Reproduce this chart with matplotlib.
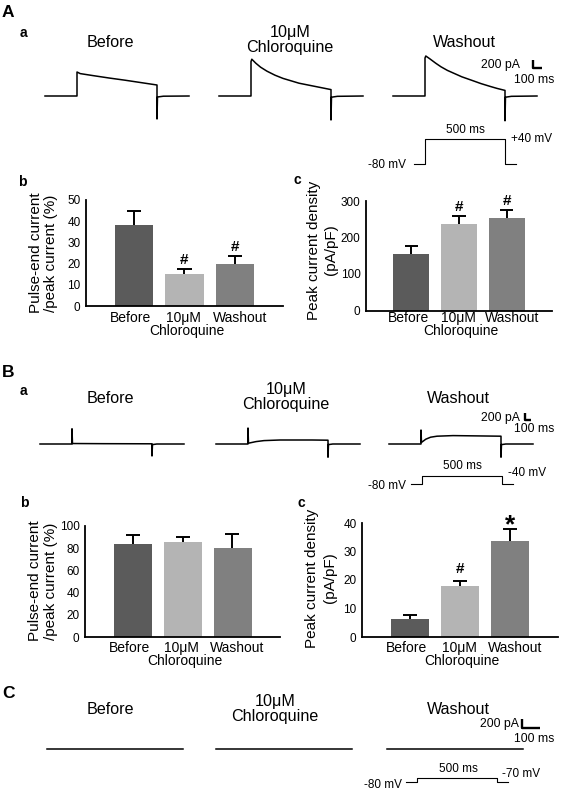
import matplotlib
matplotlib.use("Agg")
import matplotlib.pyplot as plt
from matplotlib.transforms import blended_transform_factory

plt.rcParams['font.family'] = ['Liberation Sans', 'DejaVu Sans']

W, H = 568, 790

groups = ["Before", "10μM", "Washout"]
bar_colors = ["#5b5b5b", "#b4b4b4", "#808080"]

# panel A b / c (mean, SEM)
A_ratio = [38, 15, 20]
A_ratio_err = [7, 2.5, 3.5]
A_ratio_marks = ["", "#", "#"]
A_density = [155, 237, 253]
A_density_err = [22, 22, 22]
A_density_marks = ["", "#", "#"]

# panel B b / c
B_ratio = [84, 86, 80]
B_ratio_err = [8, 4.5, 13]
B_ratio_marks = ["", "", ""]
B_density = [6.2, 17.8, 33.8]
B_density_err = [1.5, 1.8, 4.2]
B_density_marks = ["", "#", "*"]

# current sweeps (ms, pA)
t_a_before = [0, 200, 200, 220, 300, 400, 500, 600, 700, 700, 703, 740, 900]
i_a_before = [0, 0, 600, 560, 510, 450, 395, 335, 275, -575, -25, -5, 0]
t_a_cq = [0, 200, 200, 205, 230, 260, 300, 350, 400, 450, 500, 550, 600, 650, 700, 700, 703, 740, 900]
i_a_cq = [0, 0, 860, 920, 820, 720, 620, 520, 440, 380, 320, 280, 240, 200, 160, -600, -30, -8, 0]
t_a_wash = [0, 200, 200, 205, 230, 268, 300, 340, 381, 430, 494, 550, 607, 650, 700, 700, 703, 740, 900]
i_a_wash = [0, 0, 950, 1000, 930, 817, 730, 640, 567, 480, 390, 310, 240, 190, 140, -620, -30, -8, 0]

t_b_before = [0, 200, 200, 203, 400, 700, 700, 703, 730, 900]
i_b_before = [0, 0, 380, 12, 8, 5, -300, -15, 0, 0]
t_b_cq = [0, 200, 200, 203, 250, 300, 400, 500, 600, 700, 700, 703, 730, 900]
i_b_cq = [0, 0, 400, 20, 60, 85, 100, 100, 100, 95, -330, -15, 0, 0]
t_b_wash = [0, 200, 200, 203, 230, 260, 300, 400, 500, 600, 700, 700, 703, 730, 900]
i_b_wash = [0, 0, 350, 40, 120, 170, 195, 210, 205, 200, 195, -330, -15, 0, 0]

t_c = [0, 850]
i_c_before = [0, 0]
i_c_cq = [0, 0]
i_c_wash = [0, 0]

# voltage protocols (ms, mV)
proto_t = [0, 70, 70, 570, 570, 640]
proto_A = [-80, -80, 40, 40, -80, -80]
proto_B = [-80, -80, -40, -40, -80, -80]
proto_C = [-80, -80, -70, -70, -80, -80]

fig = plt.figure(figsize=(W / 100, H / 100), dpi=100)
ov = fig.add_axes([0, 0, 1, 1])
ov.set_xlim(0, W)
ov.set_ylim(H, 0)
ov.axis('off')


def box(x0, y0, x1, y1):
    return fig.add_axes([x0 / W, 1 - y1 / H, (x1 - x0) / W, (y1 - y0) / H])


def txt(x, y, s, size=10, **kw):
    kw.setdefault('va', 'baseline')
    ov.text(x, y, s, fontsize=size, **kw)


def trace(x0, y0, y1, t, i, xmax, ylo, yhi):
    ax = box(x0, y0, x0 + xmax * 0.16, y1)
    ax.plot(t, i, color='black', lw=1.1, clip_on=False)
    ax.set_xlim(0, xmax)
    ax.set_ylim(ylo, yhi)
    ax.axis('off')


def protocol(x0, y0, y1, v, ylo, yhi):
    ax = box(x0, y0, x0 + proto_t[-1] * 0.16, y1)
    ax.plot(proto_t, v, color='black', lw=0.8, clip_on=False)
    ax.set_xlim(0, proto_t[-1])
    ax.set_ylim(ylo, yhi)
    ax.axis('off')


def bars(x0, y0, x1, y1, vals, errs, ymax, step, marks, gaps, label_y, chloro_y):
    ax = box(x0, y0, x1, y1)
    pos = [1, 2, 3]
    ax.bar(pos, vals, width=0.76, color=bar_colors)
    tops = [v + e for v, e in zip(vals, errs)]
    ax.vlines(pos, vals, tops, color='black', lw=1.4)
    ax.hlines(tops, [p - 0.14 for p in pos], [p + 0.14 for p in pos], color='black', lw=1.4)
    for p, tp, m, g in zip(pos, tops, marks, gaps):
        if m == "*":
            ax.annotate(m, (p, tp), xytext=(0, g), textcoords='offset pixels',
                        ha='center', va='baseline', fontsize=19, fontweight='bold')
        elif m:
            ax.annotate(m, (p, tp), xytext=(0, g), textcoords='offset pixels',
                        ha='center', va='baseline', fontsize=11, fontweight='bold')
    ax.set_xlim(0.05, 3.95)
    ax.set_ylim(0, ymax)
    ax.set_yticks(range(0, ymax + 1, step))
    ax.set_xticks([])
    ax.tick_params(axis='y', length=0, labelsize=8.5, pad=4)
    for s in ['top', 'right']:
        ax.spines[s].set_visible(False)
    for s in ['left', 'bottom']:
        ax.spines[s].set_linewidth(1.3)
    ax.patch.set_alpha(0)
    tr = blended_transform_factory(ax.transData, ov.transData)
    for p, g, dx in zip(pos, groups, [-3, -1, 5]):
        ax.annotate(g, (p, label_y), xycoords=tr, xytext=(dx, 0), textcoords='offset pixels',
                    ha='center', va='baseline', fontsize=10)
    ax.annotate("Chloroquine", (2, chloro_y), xycoords=tr, xytext=(2, 0),
                textcoords='offset pixels', ha='center', va='baseline', fontsize=10)
    return ax


def titles(xb, xc, xw, yb, yc1, yc2):
    txt(xb, yb, "Before", 11.6, ha='center')
    txt(xc, yc1, "10μM", 11.6, ha='center')
    txt(xc, yc2, "Chloroquine", 11.6, ha='center')
    txt(xw, yb, "Washout", 11.6, ha='center')


def scalebar(xt, yt1, yt2, xb, yb0, yb1, xb1):
    txt(xt, yt1, "200 pA", 8.8, ha='right')
    txt(554, yt2, "100 ms", 8.8, ha='right')
    ov.plot([xb, xb, xb1], [yb0, yb1, yb1], color='black', lw=1.7, solid_capstyle='butt')


# ---------------- panel A ----------------
txt(2, 17, "A", 12.5, fontweight='bold')
txt(20, 37, "a", 10, fontweight='bold')
titles(110, 290, 464, 47, 37, 52)
trace(45, 52, 124, t_a_before, i_a_before, 900, -700, 1100)
trace(219, 52, 124, t_a_cq, i_a_cq, 900, -700, 1100)
trace(393, 52, 124, t_a_wash, i_a_wash, 900, -700, 1100)
scalebar(520, 68, 83, 533, 60, 68, 542)
protocol(414, 136.9, 166.1, proto_A, -90, 50)
txt(465, 133, "500 ms", 8.5, ha='center')
txt(511, 142, "+40 mV", 8.5, ha='left')
txt(406, 168, "-80 mV", 8.5, ha='right')

txt(18, 186, "b", 10, fontweight='bold')
bars(86, 200, 283, 306, A_ratio, A_ratio_err, 50, 10, A_ratio_marks, [5, 5, 5], 322, 335)
txt(36, 253, "Pulse-end current", 11, rotation=90, ha='center', va='center')
txt(51, 253, "/peak current (%)", 11, rotation=90, ha='center', va='center')

txt(293, 184, "c", 10, fontweight='bold')
bars(366, 201, 552, 310.5, A_density, A_density_err, 300, 100, A_density_marks, [5, 5, 5], 322, 335)
txt(314, 250, "Peak current density", 11, rotation=90, ha='center', va='center')
txt(331, 250, "(pA/pF)", 11, rotation=90, ha='center', va='center')

# ---------------- panel B ----------------
txt(2, 377, "B", 12.5, fontweight='bold')
txt(20, 395, "a", 10, fontweight='bold')
titles(110, 286, 458, 403, 394, 409)
trace(40, 424, 460, t_b_before, i_b_before, 900, -400, 500)
trace(216, 424, 460, t_b_cq, i_b_cq, 900, -400, 500)
trace(389, 424, 460, t_b_wash, i_b_wash, 900, -400, 500)
scalebar(520, 421, 432, 525, 413, 420, 531)
protocol(411, 474, 486, proto_B, -90, -30)
txt(462, 469, "500 ms", 8.5, ha='center')
txt(508, 476, "-40 mV", 8.5, ha='left')
txt(406, 489, "-80 mV", 8.5, ha='right')

txt(20, 507, "b", 10, fontweight='bold')
bars(85, 526, 280, 637, B_ratio, B_ratio_err, 100, 20, B_ratio_marks, [5, 5, 5], 652, 665)
txt(35, 581, "Pulse-end current", 11, rotation=90, ha='center', va='center')
txt(51, 581, "/peak current (%)", 11, rotation=90, ha='center', va='center')

txt(297, 507, "c", 10, fontweight='bold')
bars(362, 523, 558, 637, B_density, B_density_err, 40, 10, B_density_marks, [5, 8, -4], 652, 665)
txt(312, 578, "Peak current density", 11, rotation=90, ha='center', va='center')
txt(330, 578, "(pA/pF)", 11, rotation=90, ha='center', va='center')

# ---------------- panel C ----------------
txt(2, 698, "C", 12.5, fontweight='bold')
titles(110, 275, 458, 714, 706, 721)
trace(47, 745, 753, t_c, i_c_before, 850, -100, 100)
trace(216, 745, 753, t_c, i_c_cq, 850, -100, 100)
trace(387, 745, 753, t_c, i_c_wash, 850, -100, 100)
scalebar(519, 727, 742, 522, 719, 728, 540)
protocol(406, 776, 784, proto_C, -85, -65)
txt(458, 772, "500 ms", 8.5, ha='center')
txt(502, 777, "-70 mV", 8.5, ha='left')
txt(402, 788, "-80 mV", 8.5, ha='right')

fig.savefig("out.png", dpi=100)
